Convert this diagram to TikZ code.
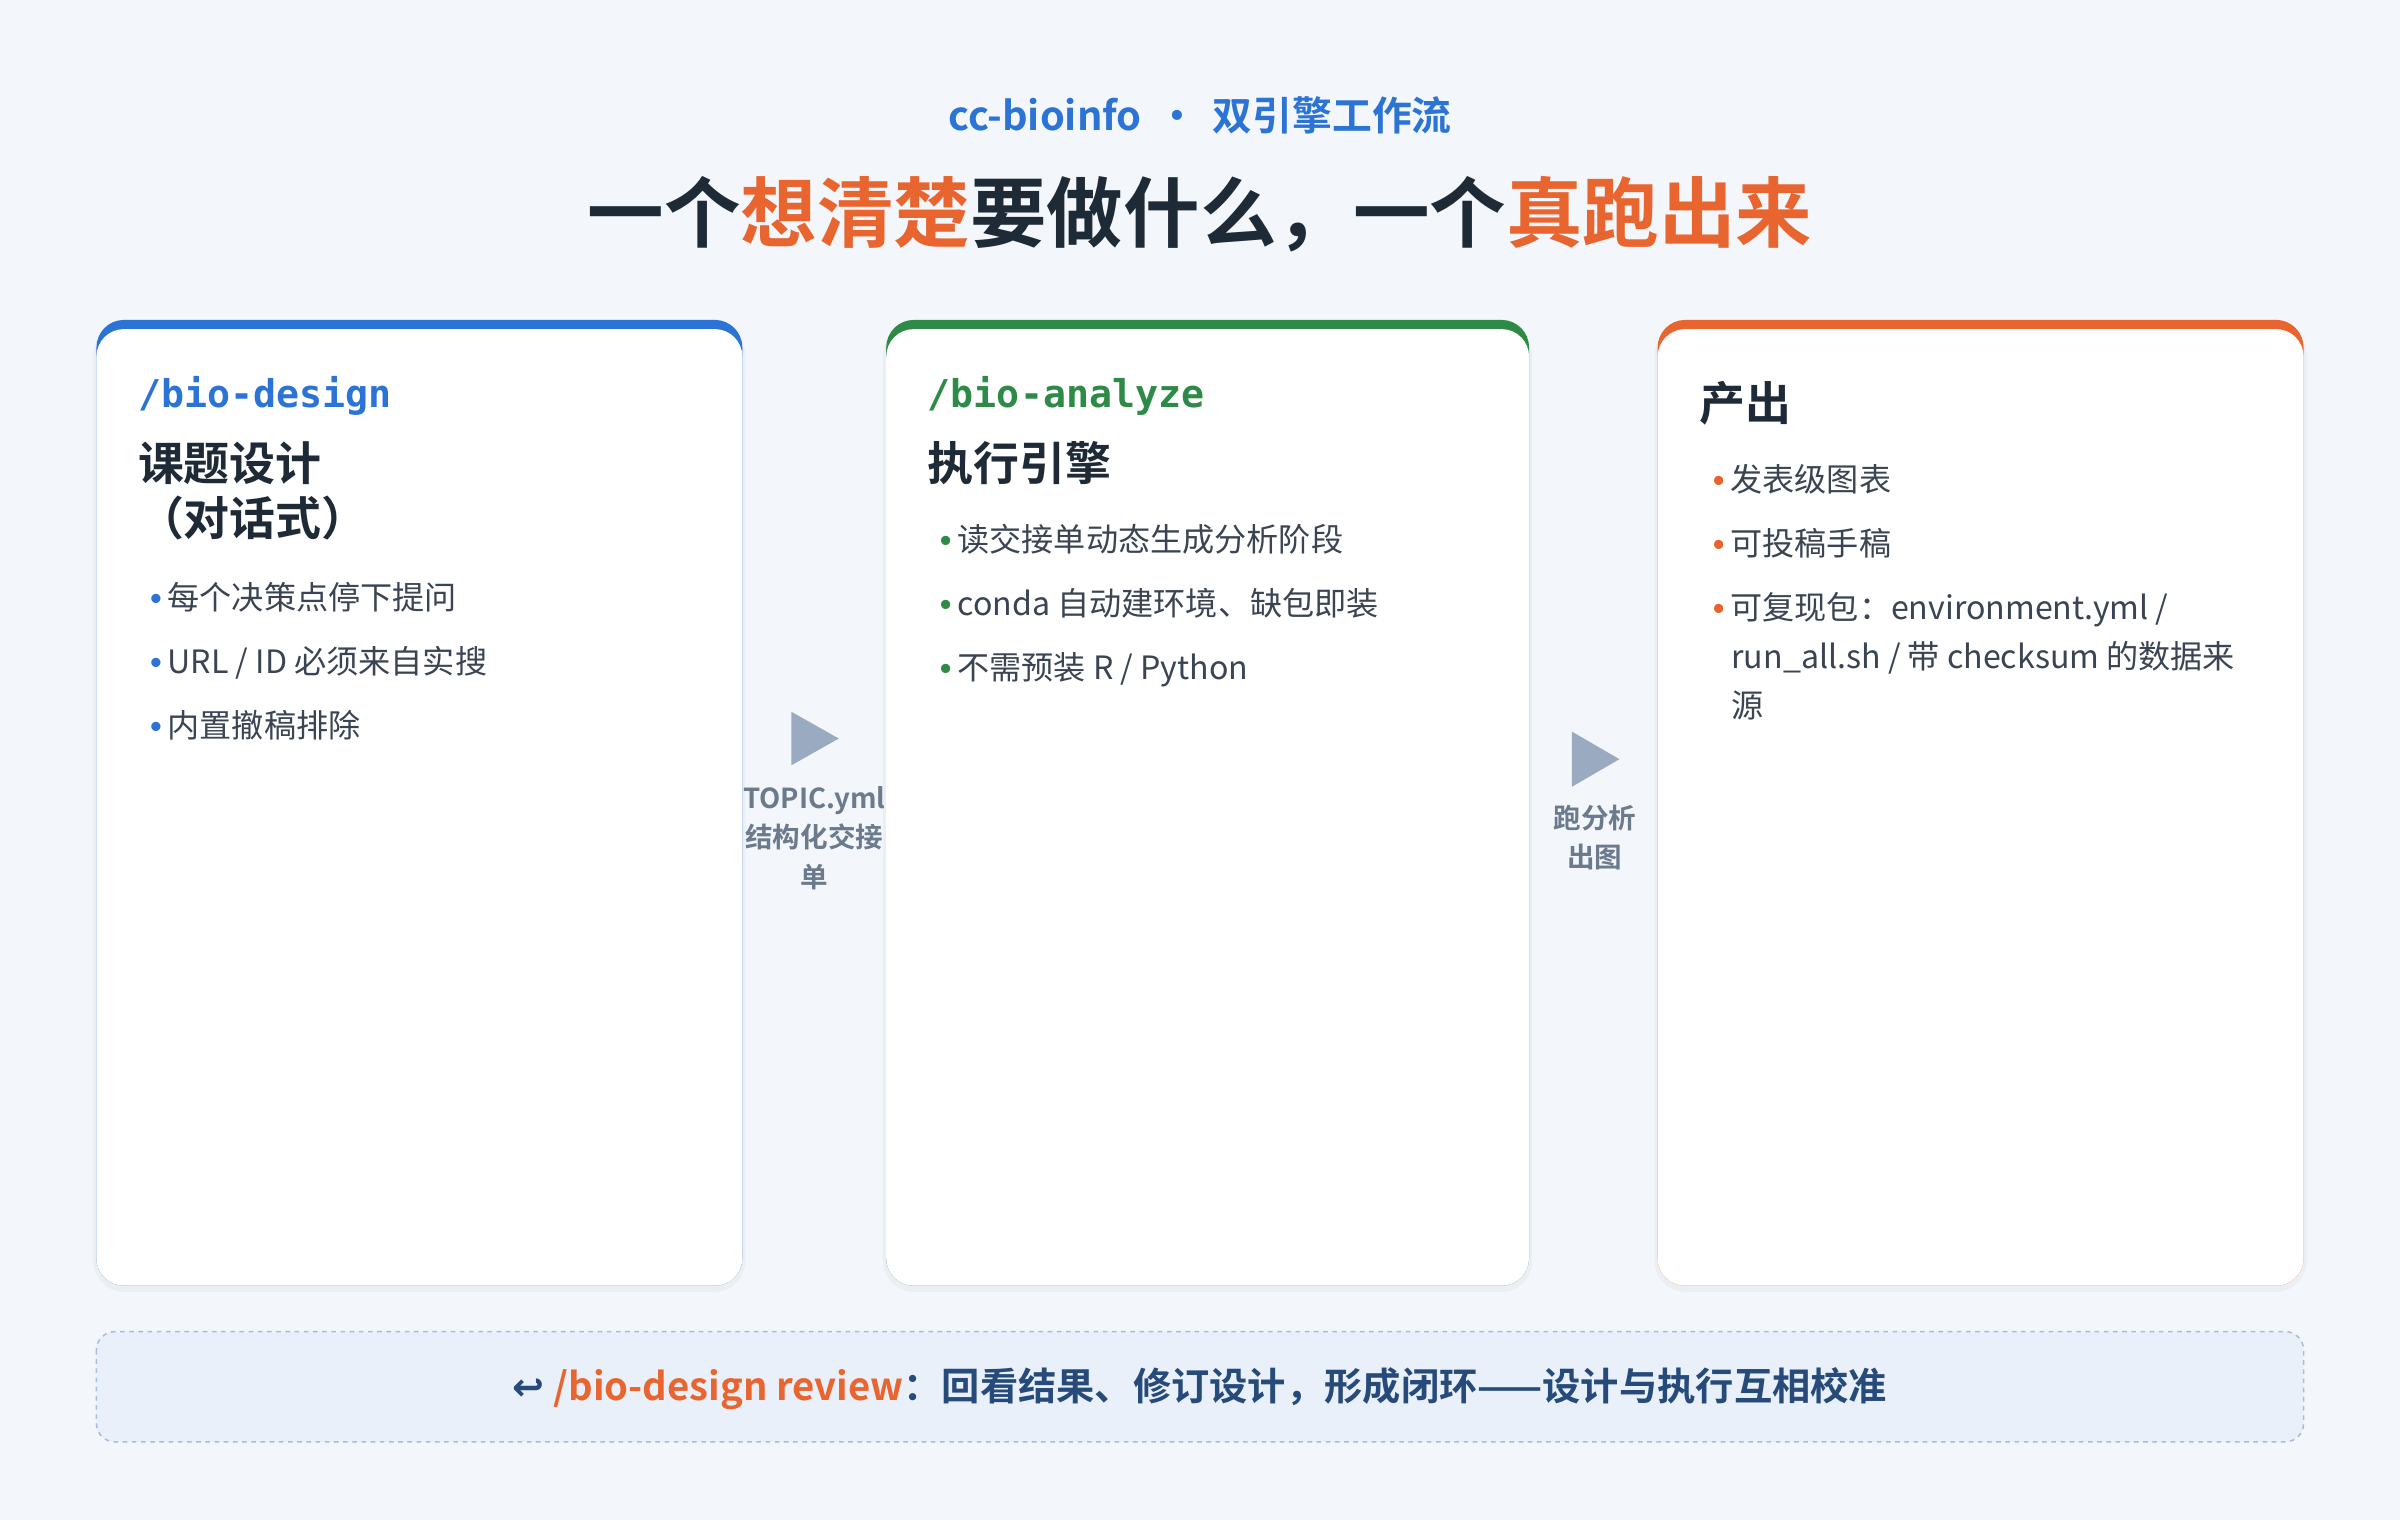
\documentclass[tikz,border=0pt]{standalone}
\usepackage{fontspec}
\setmainfont{Noto Sans CJK SC}
\newfontfamily\cjkb{Noto Sans CJK SC Bold}
\newfontfamily\monof{DejaVu Sans Mono}
\newfontfamily\symf{DejaVu Sans}
\newfontfamily\bulf{Liberation Sans}
\newcommand{\fsz}[1]{\fontsize{#1}{#1}\selectfont}
\newcommand{\bul}[1]{\textcolor{#1}{{\bulf\bfseries •}}\kern4pt}
\definecolor{bg}{HTML}{F3F6FB}
\definecolor{cblue}{HTML}{2B74D6}
\definecolor{cgreen}{HTML}{2E8B47}
\definecolor{corange}{HTML}{E8652F}
\definecolor{dark}{HTML}{1F2A37}
\definecolor{txt}{HTML}{3A4452}
\definecolor{arr}{HTML}{9AAAC0}
\definecolor{lab}{HTML}{6B7A8C}
\definecolor{navy}{HTML}{264A7A}
\definecolor{boxbd}{HTML}{A9BCD8}
\definecolor{boxfill}{HTML}{E9F0FA}
\begin{document}
\begin{tikzpicture}[x=1pt,y=-1pt,
  txt/.style={anchor=base west,inner sep=0pt,text=txt,font=\fsz{21}},
  cmd/.style={anchor=base west,inner sep=0pt,font=\monof\bfseries\fsz{25}},
  head/.style={anchor=base west,inner sep=0pt,text=dark,font=\cjkb\fsz{30}},
  lab/.style={anchor=base,inner sep=0pt,text=lab,font=\cjkb\fsz{18}},
  tri/.style={fill=arr,draw=none}]
\useasboundingbox (0,0) rectangle (1568,993);
\fill[bg] (0,0) rectangle (1568,993);
\node[anchor=base,inner sep=0pt,text=cblue,font=\cjkb\fsz{26}] (sub) at (784,85) {cc-bioinfo \,•\, 双引擎工作流};
\node[anchor=base,inner sep=0pt,text=dark,font=\cjkb\fsz{50}] (title) at (784,158) {一个\textcolor{corange}{想清楚}要做什么，一个\textcolor{corange}{真跑出来}};
% cards
\foreach \xa/\xb/\c [count=\i] in {63/485/cblue,579/999/cgreen,1083/1505/corange}{
  \fill[black,opacity=0.03,rounded corners=20] (\xa-2,212) rectangle (\xb+2,844);
  \fill[\c,rounded corners=18] (\xa,209) rectangle (\xb,840);
  \fill[white,rounded corners=18] (\xa,215) rectangle (\xb,840);
}
% card 1
\node[cmd,text=cblue] (c1cmd) at (90,266) {/bio-design};
\node[head] (c1h1) at (90,314) {课题设计};
\node[head] (c1h2) at (90,350) {（对话式）};
\node[txt] (c1b1) at (98,398) {\bul{cblue}每个决策点停下提问};
\node[txt] (c1b2) at (98,440) {\bul{cblue}URL / ID 必须来自实搜};
\node[txt] (c1b3) at (98,482) {\bul{cblue}内置撤稿排除};
% card 2
\node[cmd,text=cgreen] (c2cmd) at (606,266) {/bio-analyze};
\node[head] (c2h) at (606,314) {执行引擎};
\node[txt] (c2b1) at (614,360) {\bul{cgreen}读交接单动态生成分析阶段};
\node[txt] (c2b2) at (614,402) {\bul{cgreen}conda 自动建环境、缺包即装};
\node[txt] (c2b3) at (614,444) {\bul{cgreen}不需预装 R / Python};
% card 3
\node[head] (c3h) at (1110,275) {产出};
\node[txt] (c3b1) at (1119,321) {\bul{corange}发表级图表};
\node[txt] (c3b2) at (1119,363) {\bul{corange}可投稿手稿};
\node[txt] (c3b3) at (1119,405) {\bul{corange}可复现包：environment.yml /};
\node[txt] (c3b4) at (1131,437) {run\_all.sh / 带 checksum 的数据来};
\node[txt] (c3b5) at (1131,469) {源};
% arrows
\fill[tri] (517,465) -- (548,482.5) -- (517,500) -- cycle;
\node[lab] (l1a) at (532,528) {TOPIC.yml};
\node[lab] (l1b) at (532,554) {结构化交接};
\node[lab] (l1c) at (532,580) {单};
\fill[tri] (1027,478) -- (1058,496) -- (1027,514) -- cycle;
\node[lab] (l2a) at (1042,541) {跑分析};
\node[lab] (l2b) at (1042,567) {出图};
% bottom box
\draw[boxbd,fill=boxfill,dashed,rounded corners=12,line width=1pt] (63,870) rectangle (1505,942);
\node[anchor=base,inner sep=0pt,font=\cjkb\fsz{25},text=navy] (rev) at (784,915) {{\symf\bfseries ↩} \textcolor{corange}{/bio-design review}：回看结果、修订设计，形成闭环——设计与执行互相校准};
\end{tikzpicture}
\end{document}
